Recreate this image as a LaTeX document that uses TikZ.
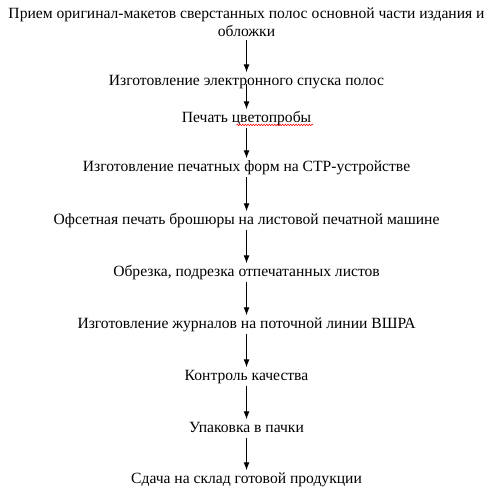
\documentclass[tikz,border=0pt]{standalone}
\usepackage{fontspec}
\setmainfont{Liberation Serif}
\usetikzlibrary{arrows.meta,decorations.pathmorphing}
\tikzset{
  stage/.style={inner sep=0pt, outer sep=1.5pt, text height=8pt, text depth=3pt,
    font=\fontsize{11.7pt}{13.5pt}\selectfont, anchor=base},
  flow/.style={-{Latex[length=6pt,width=4.5pt]}, line width=0.75pt},
}
\begin{document}
\begin{tikzpicture}
\useasboundingbox (0,0) rectangle (366.75pt,-369.75pt);

\node[inner sep=0pt, outer sep=3pt, align=center, anchor=base,
      font=\fontsize{11.7pt}{13.5pt}\selectfont] (priem) at (184.9pt,-27pt)
      {Прием оригинал-макетов сверстанных полос основной части издания и\\обложки};
\node[stage] (spusk) at (184.9pt,-63.75pt) {Изготовление электронного спуска полос};
\node[stage] (proba) at (184.9pt,-91.5pt) {Печать цветопробы};
\node[stage] (formy) at (184.9pt,-128.25pt) {Изготовление печатных форм на СТР-устройстве};
\node[stage] (pechat) at (184.9pt,-168pt) {Офсетная печать брошюры на листовой печатной машине};
\node[stage] (obrezka) at (184.9pt,-207pt) {Обрезка, подрезка отпечатанных листов};
\node[stage] (zhurnal) at (184.9pt,-246pt) {Изготовление журналов на поточной линии ВШРА};
\node[stage] (kontrol) at (184.9pt,-285pt) {Контроль качества};
\node[stage] (upak) at (184.9pt,-324pt) {Упаковка в пачки};
\node[stage] (sklad) at (184.9pt,-362.25pt) {Сдача на склад готовой продукции};

% spell-check mark
\draw[red, line width=0.4pt, decorate, decoration={snake, amplitude=0.6pt, segment length=2pt}]
      ([xshift=-57.5pt,yshift=-2.2pt]proba.base east) -- ([yshift=-2.2pt]proba.base east);

\draw[flow] (priem.south) -- (spusk.north);
\draw[flow, shorten <=-5pt] (spusk.south) -- (proba.north);
\draw[flow] (proba.south) -- (formy.north);
\draw[flow] (formy.south) -- (pechat.north);
\draw[flow] (pechat.south) -- (obrezka.north);
\draw[flow] (obrezka.south) -- (zhurnal.north);
\draw[flow] (zhurnal.south) -- (kontrol.north);
\draw[flow] (kontrol.south) -- (upak.north);
\draw[flow] (upak.south) -- (sklad.north);
\end{tikzpicture}
\end{document}
